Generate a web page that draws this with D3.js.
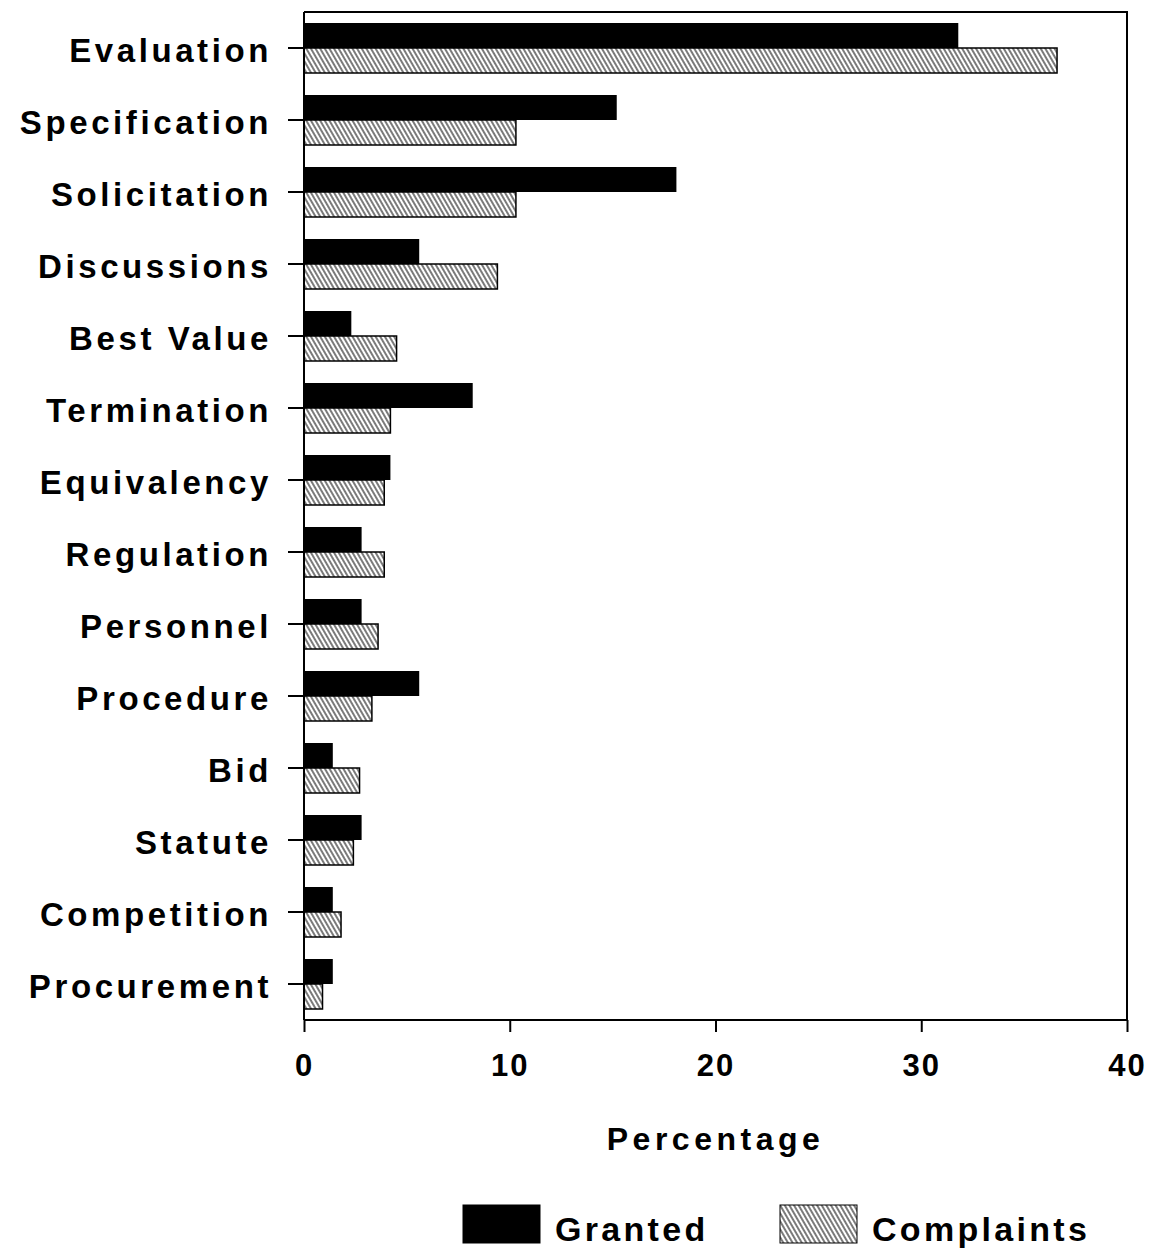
<!DOCTYPE html>
<html>
<head>
<meta charset="utf-8">
<script src="https://cdn.jsdelivr.net/npm/d3@7/dist/d3.min.js"></script>
<style>
  body { margin: 0; background: #fff; }
  svg text { font-family: "Liberation Sans", Arial, sans-serif; font-weight: bold; fill: #000; }
</style>
</head>
<body>
<svg id="chart" width="1157" height="1249"></svg>
<script>
// categories, top to bottom
const categories = ["Evaluation", "Specification", "Solicitation", "Discussions", "Best Value",
  "Termination", "Equivalency", "Regulation", "Personnel", "Procedure", "Bid", "Statute",
  "Competition", "Procurement"];
// percentage of protests granted
const granted = [31.8, 15.2, 18.1, 5.6, 2.3, 8.2, 4.2, 2.8, 2.8, 5.6, 1.4, 2.8, 1.4, 1.4];
// percentage of complaints
const complaints = [36.6, 10.3, 10.3, 9.4, 4.5, 4.2, 3.9, 3.9, 3.6, 3.3, 2.7, 2.4, 1.8, 0.9];
const xTicks = [0, 10, 20, 30, 40];

const svg = d3.select("#chart");
const mLeft = 304, mRight = 1127, mTop = 12, mBottom = 1020;

const x = d3.scaleLinear().domain([0, 40]).range([mLeft, mRight]);
const y = d3.scaleBand().domain(categories).range([mTop, mBottom]);

// hatch pattern for complaints
const defs = svg.append("defs");
const pat = defs.append("pattern")
  .attr("id", "hatch")
  .attr("patternUnits", "userSpaceOnUse")
  .attr("width", 4).attr("height", 4)
  .attr("patternTransform", "rotate(-30)");
pat.append("rect").attr("width", 4).attr("height", 4).attr("fill", "#fff");
pat.append("line").attr("x1", 1).attr("y1", 0).attr("x2", 1).attr("y2", 4)
  .attr("stroke", "#222").attr("stroke-width", 1.2);

const barH = 25;
const rows = categories.map((c, i) => ({ cat: c, g: granted[i], c: complaints[i] }));

// frame (top + right)
svg.append("path")
  .attr("d", `M${mLeft},${mTop}H${mRight}V${mBottom}`)
  .attr("fill", "none").attr("stroke", "#000").attr("stroke-width", 2);

// granted bars
svg.selectAll(".g").data(rows).enter().append("rect")
  .attr("x", x(0))
  .attr("y", d => y(d.cat) + y.bandwidth() / 2 - barH)
  .attr("width", d => x(d.g) - x(0))
  .attr("height", barH)
  .attr("fill", "#000");

// complaints bars
svg.selectAll(".c").data(rows).enter().append("rect")
  .attr("x", x(0))
  .attr("y", d => y(d.cat) + y.bandwidth() / 2)
  .attr("width", d => x(d.c) - x(0))
  .attr("height", barH)
  .attr("fill", "url(#hatch)")
  .attr("stroke", "#000").attr("stroke-width", 1.5);

// y axis
const yAxis = svg.append("g")
  .attr("transform", `translate(${mLeft},0)`)
  .call(d3.axisLeft(y).tickSize(16).tickPadding(16));
yAxis.select(".domain").attr("stroke-width", 2).attr("d", `M0,${mTop}V${mBottom}`);
yAxis.selectAll(".tick line").attr("stroke-width", 2);
yAxis.selectAll("text")
  .attr("font-size", 33).attr("letter-spacing", 3.6)
  .attr("font-family", null).attr("fill", null).attr("dy", "0.42em");

// x axis
const xAxis = svg.append("g")
  .attr("transform", `translate(0,${mBottom})`)
  .call(d3.axisBottom(x).tickValues(xTicks).tickSize(12).tickPadding(22).tickFormat(d3.format("d")));
xAxis.select(".domain").attr("stroke-width", 2).attr("d", `M${mLeft},0H${mRight}`);
xAxis.selectAll(".tick line").attr("stroke-width", 2);
xAxis.selectAll("text")
  .attr("font-size", 31).attr("letter-spacing", 2)
  .attr("font-family", null).attr("fill", null);

svg.append("text")
  .attr("x", x(20)).attr("y", 1150)
  .attr("text-anchor", "middle")
  .attr("font-size", 32).attr("letter-spacing", 4.5)
  .text("Percentage");

// legend
const legend = [
  { label: "Granted", fill: "#000", x: 463 },
  { label: "Complaints", fill: "url(#hatch)", x: 780 }
];
const lg = svg.selectAll(".lg").data(legend).enter().append("g");
lg.append("rect")
  .attr("x", d => d.x).attr("y", 1205).attr("width", 77).attr("height", 38)
  .attr("fill", d => d.fill).attr("stroke", "#000").attr("stroke-width", 1);
lg.append("text")
  .attr("x", d => d.x + 92).attr("y", 1241)
  .attr("font-size", 34).attr("letter-spacing", 3.3)
  .text(d => d.label);
</script>
</body>
</html>
